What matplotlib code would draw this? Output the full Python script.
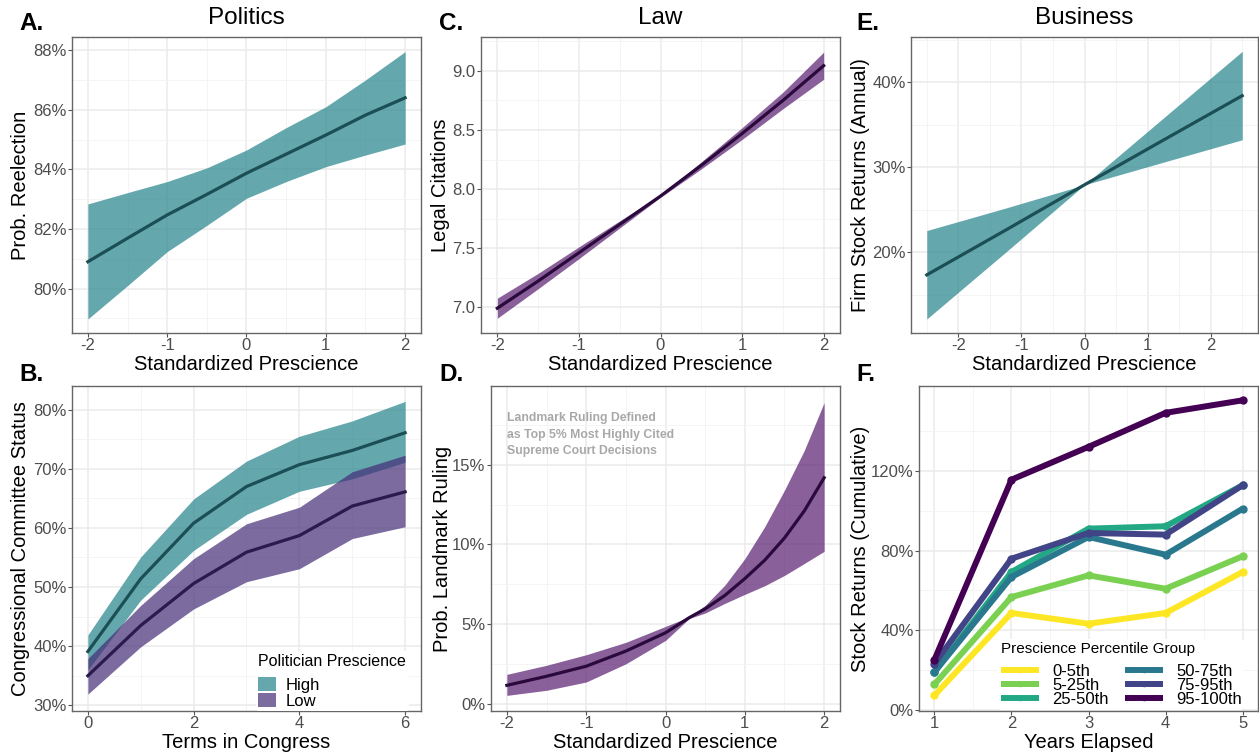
import matplotlib
matplotlib.use("Agg")
import matplotlib.pyplot as plt
from matplotlib.ticker import FixedLocator, FuncFormatter
from matplotlib.patches import Patch

plt.rcParams['font.family'] = ['Liberation Sans', 'DejaVu Sans']
plt.rcParams['axes.unicode_minus'] = False

# ---------------- data ----------------
# A. Politics
xA = [-2, -1.5, -1, -0.5, 0, 0.5, 1, 1.5, 2]
fitA = [80.9, 81.69, 82.47, 83.16, 83.87, 84.51, 85.15, 85.82, 86.4]
hiA = [82.84, 83.22, 83.59, 84.05, 84.65, 85.4, 86.1, 87.0, 87.95]
loA = [78.98, 80.1, 81.24, 82.12, 83.03, 83.59, 84.09, 84.48, 84.85]

# B. Committee status by terms
xB = [0, 1, 2, 3, 4, 5, 6]
highFitB = [39.1, 51.4, 60.8, 67.0, 70.7, 73.1, 76.1]
highHiB = [41.9, 55.1, 64.9, 71.3, 75.5, 78.1, 81.4]
highLoB = [36.0, 47.8, 56.2, 62.3, 66.2, 68.3, 71.1]
lowFitB = [35.0, 43.5, 50.6, 55.9, 58.7, 63.7, 66.1]
lowHiB = [37.9, 46.9, 54.8, 60.7, 63.5, 69.5, 72.3]
lowLoB = [31.9, 39.9, 46.3, 50.9, 53.1, 58.2, 60.2]
groupsB = ["High", "Low"]

# C. Law citations
xC = [-2, -1.5, -1, -0.5, 0, 0.5, 1, 1.5, 2]
fitC = [6.99, 7.22, 7.46, 7.70, 7.94, 8.20, 8.47, 8.75, 9.045]
hiC = [7.075, 7.285, 7.51, 7.73, 7.95, 8.23, 8.52, 8.82, 9.16]
loC = [6.905, 7.155, 7.41, 7.67, 7.93, 8.17, 8.42, 8.68, 8.93]

# D. Landmark ruling
xD = [-2, -1.5, -1, -0.5, 0, 0.3, 0.5, 0.75, 1, 1.25, 1.5, 1.75, 2]
fitD = [1.15, 1.72, 2.35, 3.3, 4.45, 5.4, 5.95, 6.8, 7.85, 9.0, 10.4, 12.1, 14.18]
hiD = [1.84, 2.41, 3.07, 3.85, 4.85, 5.45, 6.17, 7.45, 9.1, 11.1, 13.4, 15.9, 18.9]
loD = [0.52, 0.84, 1.36, 2.5, 3.97, 5.35, 5.69, 6.3, 6.86, 7.4, 8.05, 8.8, 9.56]
noteD = "Landmark Ruling Defined\nas Top 5% Most Highly Cited\nSupreme Court Decisions"

# E. Business
xE = [-2.5, -1.25, 0, 1.25, 2.5]
fitE = [17.33, 22.6, 27.94, 33.2, 38.43]
hiE = [22.55, 25.2, 27.94, 35.8, 43.65]
loE = [12.14, 20.0, 27.94, 30.6, 33.24]

# F. Cumulative returns
years = [1, 2, 3, 4, 5]
groupsF = ["0-5th", "5-25th", "25-50th", "50-75th", "75-95th", "95-100th"]
returnsF = [
    [7.2, 48.6, 43.2, 48.6, 69.2],
    [12.7, 56.6, 67.5, 60.8, 77.1],
    [18.9, 69.2, 91.0, 92.2, 112.8],
    [18.9, 66.7, 86.8, 77.9, 101.0],
    [23.1, 75.9, 88.8, 88.0, 112.8],
    [25.1, 115.6, 132.1, 149.2, 155.5],
]
colorsF = ["#FDE725", "#7AD151", "#22A884", "#2A788E", "#414487", "#440154"]

# ---------------- style ----------------
W, H = 1259, 755
fig = plt.figure(figsize=(W / 100, H / 100), dpi=100)

TEAL_FILL = "#23838A"
TEAL_LINE = "#1B4F55"
PURP_FILL_B = "#452D77"
PURP_LINE_B = "#2B1A4C"
PURP_FILL_D = "#581C6F"
PURP_LINE_D = "#2A0A3C"
ALPHA = 0.7
TICKC = "#4D4D4D"


def rect(l, t, r, b):
    return [l / W, 1 - b / H, (r - l) / W, (b - t) / H]


pct = FuncFormatter(lambda v, p: f"{v:.0f}%")


def style(ax, xlim, ylim, xmaj, xmin, ymaj, ymin):
    ax.set_xlim(*xlim)
    ax.set_ylim(*ylim)
    ax.xaxis.set_major_locator(FixedLocator(xmaj))
    ax.xaxis.set_minor_locator(FixedLocator(xmin))
    ax.yaxis.set_major_locator(FixedLocator(ymaj))
    ax.yaxis.set_minor_locator(FixedLocator(ymin))
    ax.grid(which="major", color="#EBEBEB", lw=1.1, zorder=0)
    ax.grid(which="minor", color="#F4F4F4", lw=0.7, zorder=0)
    ax.set_axisbelow(True)
    for s in ax.spines.values():
        s.set_color("#666666")
        s.set_linewidth(1.0)
    ax.tick_params(which="major", direction="out", length=2.75, width=0.8,
                   color="#555555", labelcolor=TICKC, labelsize=12, pad=1.2)
    ax.tick_params(which="minor", length=0)


def labels(ax, xlabel, ylabel, xlab_y, ylab_x, l, t, r, b):
    ax.set_xlabel(xlabel, fontsize=14.5, color="black")
    ax.set_ylabel(ylabel, fontsize=14.5, color="black")
    ax.xaxis.label.set_va("center")
    ax.yaxis.label.set_va("center")
    ax.xaxis.set_label_coords(((l + r) / 2) / W, 1 - xlab_y / H, transform=fig.transFigure)
    ax.yaxis.set_label_coords(ylab_x / W, 1 - ((t + b) / 2) / H, transform=fig.transFigure)


def panel_label(s, x, y):
    fig.text(x / W, 1 - y / H, s, fontsize=17.5, fontweight="bold", ha="left", va="center")


def title(s, l, r):
    fig.text(((l + r) / 2) / W, 1 - 18.5 / H, s, fontsize=17.5, ha="center", va="center")


# ---------- A ----------
bA = (72, 37, 421, 333)
axA = fig.add_axes(rect(*bA))
axA.fill_between(xA, loA, hiA, color=TEAL_FILL, alpha=ALPHA, lw=0, zorder=2)
axA.plot(xA, fitA, color=TEAL_LINE, lw=2.3, zorder=3)
style(axA, (-2.2, 2.2), (78.51, 88.44), [-2, -1, 0, 1, 2], [-1.5, -0.5, 0.5, 1.5],
      [80, 82, 84, 86, 88], [79, 81, 83, 85, 87])
axA.yaxis.set_major_formatter(pct)
labels(axA, "Standardized Prescience", "Prob. Reelection", 365, 21, *bA)
panel_label("A.", 19, 23)
title("Politics", bA[0], bA[2])

# ---------- B ----------
bB = (72, 386, 421, 711)
axB = fig.add_axes(rect(*bB))
axB.fill_between(xB, highLoB, highHiB, color=TEAL_FILL, alpha=ALPHA, lw=0, zorder=2)
axB.fill_between(xB, lowLoB, lowHiB, color=PURP_FILL_B, alpha=ALPHA, lw=0, zorder=2)
axB.plot(xB, highFitB, color=TEAL_LINE, lw=2.3, zorder=3)
axB.plot(xB, lowFitB, color=PURP_LINE_B, lw=2.3, zorder=3)
style(axB, (-0.3, 6.3), (29.04, 84.0), [0, 2, 4, 6], [1, 3, 5],
      [30, 40, 50, 60, 70, 80], [35, 45, 55, 65, 75])
axB.yaxis.set_major_formatter(pct)
labels(axB, "Terms in Congress", "Congressional Committee Status", 742, 21, *bB)
panel_label("B.", 19, 374)
handlesB = [Patch(facecolor=TEAL_FILL, alpha=ALPHA, edgecolor="none"),
            Patch(facecolor=PURP_FILL_B, alpha=ALPHA, edgecolor="none")]
legB = axB.legend(handlesB, groupsB, title="Politician Prescience", loc="upper left",
                  bbox_to_anchor=(256 / W, 1 - 651 / H), bbox_transform=fig.transFigure,
                  fontsize=12, title_fontsize=11.5, frameon=True, facecolor="white",
                  edgecolor="none", framealpha=1, borderpad=0.15, labelspacing=0.0,
                  handlelength=1.05, handleheight=0.95, handletextpad=0.6, borderaxespad=0)
legB._legend_box.align = "left"
legB._legend_box.sep = 6

# ---------- C ----------
bC = (481, 37, 840, 333)
axC = fig.add_axes(rect(*bC))
axC.fill_between(xC, loC, hiC, color=PURP_FILL_D, alpha=ALPHA, lw=0, zorder=2)
axC.plot(xC, fitC, color=PURP_LINE_D, lw=2.3, zorder=3)
style(axC, (-2.2, 2.2), (6.78, 9.288), [-2, -1, 0, 1, 2], [-1.5, -0.5, 0.5, 1.5],
      [7.0, 7.5, 8.0, 8.5, 9.0], [7.25, 7.75, 8.25, 8.75, 9.25])
axC.yaxis.set_major_formatter(FuncFormatter(lambda v, p: f"{v:.1f}"))
labels(axC, "Standardized Prescience", "Legal Citations", 365, 440, *bC)
panel_label("C.", 439, 23)
title("Law", bC[0], bC[2])

# ---------- D ----------
bD = (491, 386, 840, 711)
axD = fig.add_axes(rect(*bD))
axD.fill_between(xD, loD, hiD, color=PURP_FILL_D, alpha=ALPHA, lw=0, zorder=2)
axD.plot(xD, fitD, color=PURP_LINE_D, lw=2.3, zorder=3)
style(axD, (-2.2, 2.2), (-0.46, 19.94), [-2, -1, 0, 1, 2], [-1.5, -0.5, 0.5, 1.5],
      [0, 5, 10, 15], [2.5, 7.5, 12.5, 17.5])
axD.yaxis.set_major_formatter(pct)
labels(axD, "Standardized Prescience", "Prob. Landmark Ruling", 742, 442, *bD)
panel_label("D.", 439, 374)
axD.text(-2, 18.3, noteD, fontsize=8.8, fontweight="bold", color="#A8A8A8",
         ha="left", va="top", linespacing=1.5, zorder=4)

# ---------- E ----------
bE = (911, 37, 1258, 333)
axE = fig.add_axes(rect(*bE))
axE.fill_between(xE, loE, hiE, color=TEAL_FILL, alpha=ALPHA, lw=0, zorder=2)
axE.plot(xE, fitE, color=TEAL_LINE, lw=2.3, zorder=3)
style(axE, (-2.75, 2.75), (10.49, 45.34), [-2, -1, 0, 1, 2], [-2.5, -1.5, -0.5, 0.5, 1.5, 2.5],
      [20, 30, 40], [15, 25, 35, 45])
axE.yaxis.set_major_formatter(pct)
labels(axE, "Standardized Prescience", "Firm Stock Returns (Annual)", 365, 860, *bE)
panel_label("E.", 856, 23)
title("Business", bE[0], bE[2])

# ---------- F ----------
bF = (919, 386, 1258, 711)
axF = fig.add_axes(rect(*bF))
hF = []
for name, vals, c in zip(groupsF, returnsF, colorsF):
    ln, = axF.plot(years, vals, color=c, lw=4.3, marker="o", markersize=5,
                   solid_capstyle="butt", zorder=3, label=name)
    hF.append(ln)
style(axF, (0.8, 5.2), (-0.67, 162.7), [1, 2, 3, 4, 5], [1.5, 2.5, 3.5, 4.5],
      [0, 40, 80, 120], [20, 60, 100, 140])
axF.yaxis.set_major_formatter(pct)
labels(axF, "Years Elapsed", "Stock Returns (Cumulative)", 743, 860, *bF)
panel_label("F.", 856, 374)
legF = axF.legend(hF, groupsF, title="Prescience Percentile Group", ncol=2, loc="upper left",
                  bbox_to_anchor=(998 / W, 1 - 639 / H), bbox_transform=fig.transFigure,
                  fontsize=12, title_fontsize=11, frameon=True, facecolor="white",
                  edgecolor="none", framealpha=1, borderpad=0.15, labelspacing=-0.05,
                  handlelength=2.3, handletextpad=0.8, columnspacing=0.95, borderaxespad=0,
                  numpoints=1, markerscale=0.6)
legF._legend_box.align = "left"
legF._legend_box.sep = 6

fig.savefig("out.png", dpi=100)
